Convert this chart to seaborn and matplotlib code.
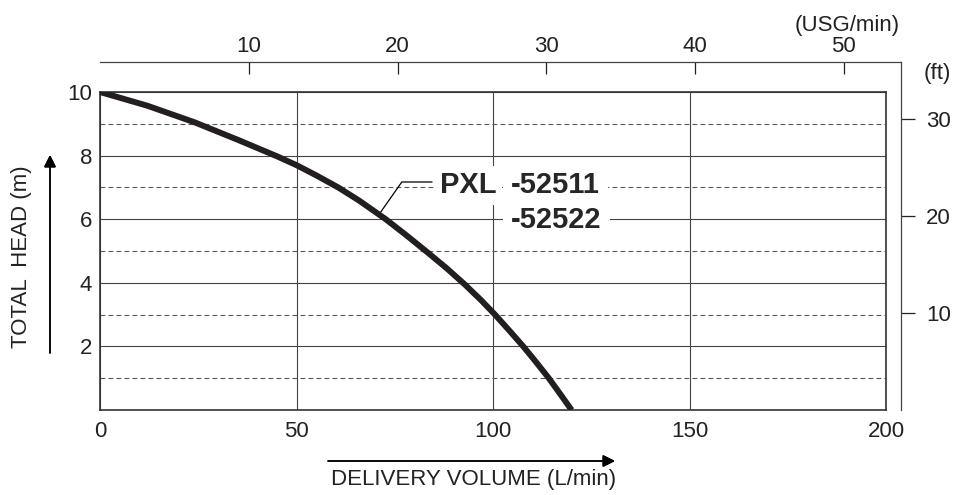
import numpy as np
import pandas as pd
import seaborn as sns
import matplotlib.pyplot as plt

# pump curve (L/min vs m)
flow_lpm = [0, 12, 24, 35, 45, 50, 55, 60.6, 66, 72.7, 78, 82.9, 88,
            92.8, 97, 100.5, 104, 107.7, 111, 114.2, 117, 120]
head_m = [10, 9.57, 9.05, 8.5, 7.98, 7.7, 7.38, 7, 6.58, 6, 5.49, 5, 4.48,
          3.95, 3.45, 3, 2.52, 2, 1.5, 1, 0.52, 0]

x_ticks = [0, 50, 100, 150, 200]
y_ticks = [2, 4, 6, 8, 10]
y_minor = [1, 3, 5, 7, 9]
usg_ticks = [10, 20, 30, 40, 50]
ft_ticks = [10, 20, 30]

LPM_PER_USG = 3.7854
M_PER_FT = 0.3048

sns.set_style("white")
plt.rcParams['font.family'] = ['Liberation Sans', 'DejaVu Sans']

W, H = 954, 495
fig = plt.figure(figsize=(W / 100, H / 100), dpi=100)

# main box: pixels 100..886 wide, 92..410 tall
ax = fig.add_axes([100 / W, (H - 410) / H, 786 / W, 318 / H])
# outer L frame (top USG scale, right ft scale): 100..901, 62..410
ax2 = fig.add_axes([100 / W, (H - 410) / H, 801 / W, 348 / H])

df = pd.DataFrame({"flow": flow_lpm, "head": head_m})
sns.lineplot(data=df, x="flow", y="head", ax=ax, color="#231f20", lw=4.3,
             solid_capstyle="butt", solid_joinstyle="round", zorder=5)

ax.set_xlim(0, 200)
ax.set_ylim(0, 10)
ax.set_xticks(x_ticks)
ax.set_yticks(y_ticks)
ax.set_yticks(y_minor, minor=True)
ax.tick_params(axis="both", which="both", length=0, labelsize=16, colors="#222")
ax.tick_params(axis="y", pad=5.5)
ax.tick_params(axis="x", pad=8)
ax.grid(True, which="major", color="#444", lw=0.8)
ax.grid(True, which="minor", axis="y", color="#555", lw=0.8, ls=(0, (4.3, 2.9)))
ax.set_axisbelow(True)
ax.set_xlabel("")
ax.set_ylabel("")
for s in ax.spines.values():
    s.set_color("#333")
    s.set_linewidth(1.2)

# secondary scales
ax2.patch.set_visible(False)
ax2.set_xlim(0, 200 * 801 / 786 / LPM_PER_USG)
ax2.set_ylim(0, 10 * 348 / 318 / M_PER_FT)
ax2.xaxis.tick_top()
ax2.yaxis.tick_right()
ax2.set_xticks(usg_ticks)
ax2.set_yticks(ft_ticks)
ax2.tick_params(axis="x", direction="in", length=8.6, width=0.9, pad=3.5,
                labelsize=16, colors="#222")
ax2.tick_params(axis="y", direction="out", length=10, width=0.9, pad=8,
                labelsize=16, colors="#222")
ax2.spines["left"].set_visible(False)
ax2.spines["bottom"].set_visible(False)
for s in ["top", "right"]:
    ax2.spines[s].set_color("#444")
    ax2.spines[s].set_linewidth(0.9)

# model callout
ax.plot([71, 76.8, 84.5], [6.15, 7.17, 7.17], color="black", lw=0.9, zorder=4)
box = dict(facecolor="white", edgecolor="none", pad=4)
ax.text(86.5, 7.07, "PXL", fontsize=21, fontweight="bold", va="center",
        ha="left", bbox=box, zorder=3)
ax.text(104.6, 7.07, "-52511", fontsize=21, fontweight="bold", va="center",
        ha="left", bbox=dict(facecolor="white", edgecolor="none", pad=6), zorder=3)
ax.text(104.6, 5.97, "-52522", fontsize=21, fontweight="bold", va="center",
        ha="left", bbox=dict(facecolor="white", edgecolor="none", pad=6), zorder=3)

# unit labels and axis titles
fig.text(847 / W, (H - 26) / H, "(USG/min)", fontsize=16, ha="center",
         va="center", color="#222")
fig.text(937 / W, (H - 73) / H, "(ft)", fontsize=16, ha="center",
         va="center", color="#222")
fig.text(474 / W, (H - 480) / H, "DELIVERY VOLUME (L/min)", fontsize=16,
         ha="center", va="center", color="#222")
fig.text(22 / W, (H - 257) / H, "TOTAL  HEAD (m)", fontsize=16, rotation=90,
         ha="center", va="center", color="#222")

arrow = dict(arrowstyle="-|>", color="black", lw=1.1, mutation_scale=18,
             shrinkA=0, shrinkB=0)
fig.add_artist(plt.annotate("", xy=(615, H - 461), xytext=(328, H - 461),
                            xycoords="figure pixels", arrowprops=arrow))
fig.add_artist(plt.annotate("", xy=(50, H - 155), xytext=(50, H - 353),
                            xycoords="figure pixels", arrowprops=arrow))

fig.savefig("out.png", dpi=100)
